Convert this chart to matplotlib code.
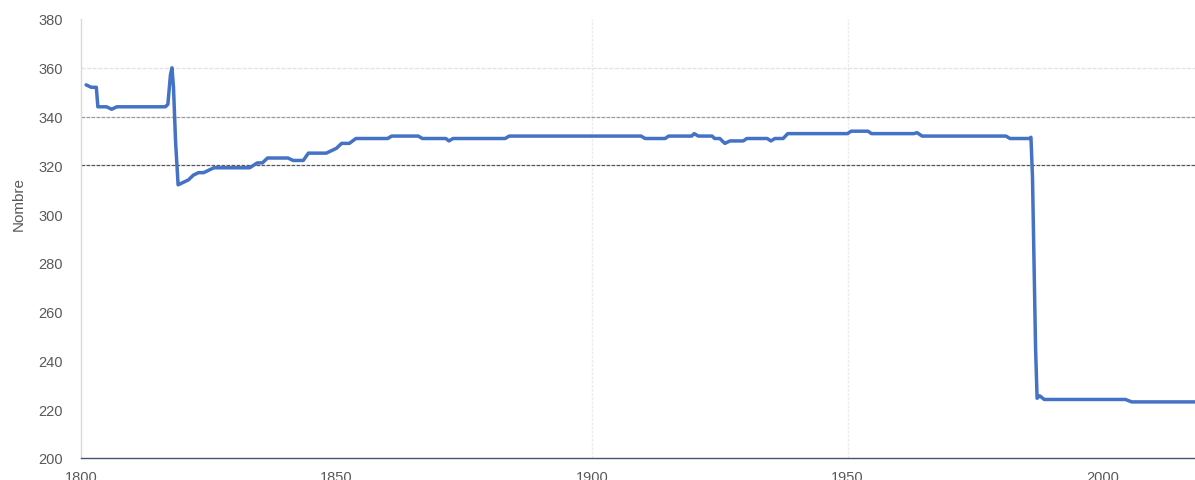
import matplotlib
matplotlib.use("Agg")
import matplotlib.pyplot as plt

# Series (year, count)
YEARS = [1801, 1802, 1803, 1803.3, 1805, 1806, 1807, 1816.5, 1817, 1817.5,
         1817.8, 1818.1, 1818.5, 1819, 1820, 1821, 1822, 1823, 1824, 1826,
         1833, 1834.5, 1835.5, 1836.5, 1840.5, 1841.5, 1843.5, 1844.5, 1848, 1850,
         1851, 1852.5, 1853.8, 1860, 1860.8, 1866, 1866.8, 1871.4, 1872, 1872.8,
         1883, 1883.8, 1909.6, 1910.4, 1914.3, 1915, 1919.5, 1920, 1920.8, 1923.5,
         1924, 1925, 1926, 1927, 1929.6, 1930.3, 1934.3, 1935, 1935.8, 1937.4,
         1938.3, 1950, 1950.7, 1954, 1954.7, 1963, 1963.6, 1964.6, 1981, 1981.8,
         1985.6, 1985.9, 1986.2, 1986.5, 1986.8, 1987.1, 1987.6, 1988.5, 2004.4, 2005.6,
         2018]
VALUES = [353, 352, 352, 344, 344, 343, 344, 344, 345, 357,
          360, 352, 330, 312, 313, 314, 316, 317, 317, 319,
          319, 321, 321, 323, 323, 322, 322, 325, 325, 327,
          329, 329, 331, 331, 332, 332, 331, 331, 330, 331,
          331, 332, 332, 331, 331, 332, 332, 333, 332, 332,
          331, 331, 329, 330, 330, 331, 331, 330, 331, 331,
          333, 333, 334, 334, 333, 333, 333.4, 332, 332, 331,
          331, 331.5, 315, 280, 245, 224.5, 225.5, 224, 224, 223,
          223]

Y_TICKS = [200, 220, 240, 260, 280, 300, 320, 340, 360, 380]
X_TICKS = [1800, 1850, 1900, 1950, 2000]

LINE_COLOR = "#4472C4"
TEXT_COLOR = "#595959"

plt.rcParams["font.family"] = ["Liberation Sans", "DejaVu Sans"]

fig = plt.figure(figsize=(11.95, 4.81), dpi=100)
ax = fig.add_axes([81 / 1195, 22 / 481, (1195 - 81) / 1195, 439 / 481])

# gridlines as drawn in the reference (only some of them are visible)
ax.axvline(1900, color="#ebebeb", lw=1.0, ls=(0, (2, 1)), zorder=0)
ax.axvline(1950, color="#ebebeb", lw=1.0, ls=(0, (2, 1)), zorder=0)
ax.axhline(360, color="#e4e4e4", lw=1.0, ls=(0, (3, 1)), zorder=0)
ax.axhline(340, color="#9a9a9a", lw=0.9, ls=(0, (3, 1)), zorder=0)
ax.axhline(320, color="#555555", lw=0.9, ls=(0, (3, 1)), zorder=0)

ax.plot(YEARS, VALUES, color=LINE_COLOR, lw=2.5, solid_joinstyle="round",
        solid_capstyle="round", zorder=3, clip_on=False)

ax.set_xlim(1800, 2018)
ax.set_ylim(200, 380)
ax.set_xticks(X_TICKS)
ax.set_yticks(Y_TICKS)
ax.tick_params(length=0, labelsize=10.5, colors=TEXT_COLOR)
ax.tick_params(axis="y", pad=13)
ax.tick_params(axis="x", pad=9)

for side in ("top", "right"):
    ax.spines[side].set_visible(False)
ax.spines["left"].set_color("#d9d9d9")
ax.spines["left"].set_linewidth(1.0)
ax.spines["bottom"].set_color("#44546A")
ax.spines["bottom"].set_linewidth(1.0)

ax.set_ylabel("Nombre", fontsize=11, color=TEXT_COLOR)
ax.yaxis.set_label_coords(-0.050, 0.58)

fig.savefig("out.png", dpi=100)
